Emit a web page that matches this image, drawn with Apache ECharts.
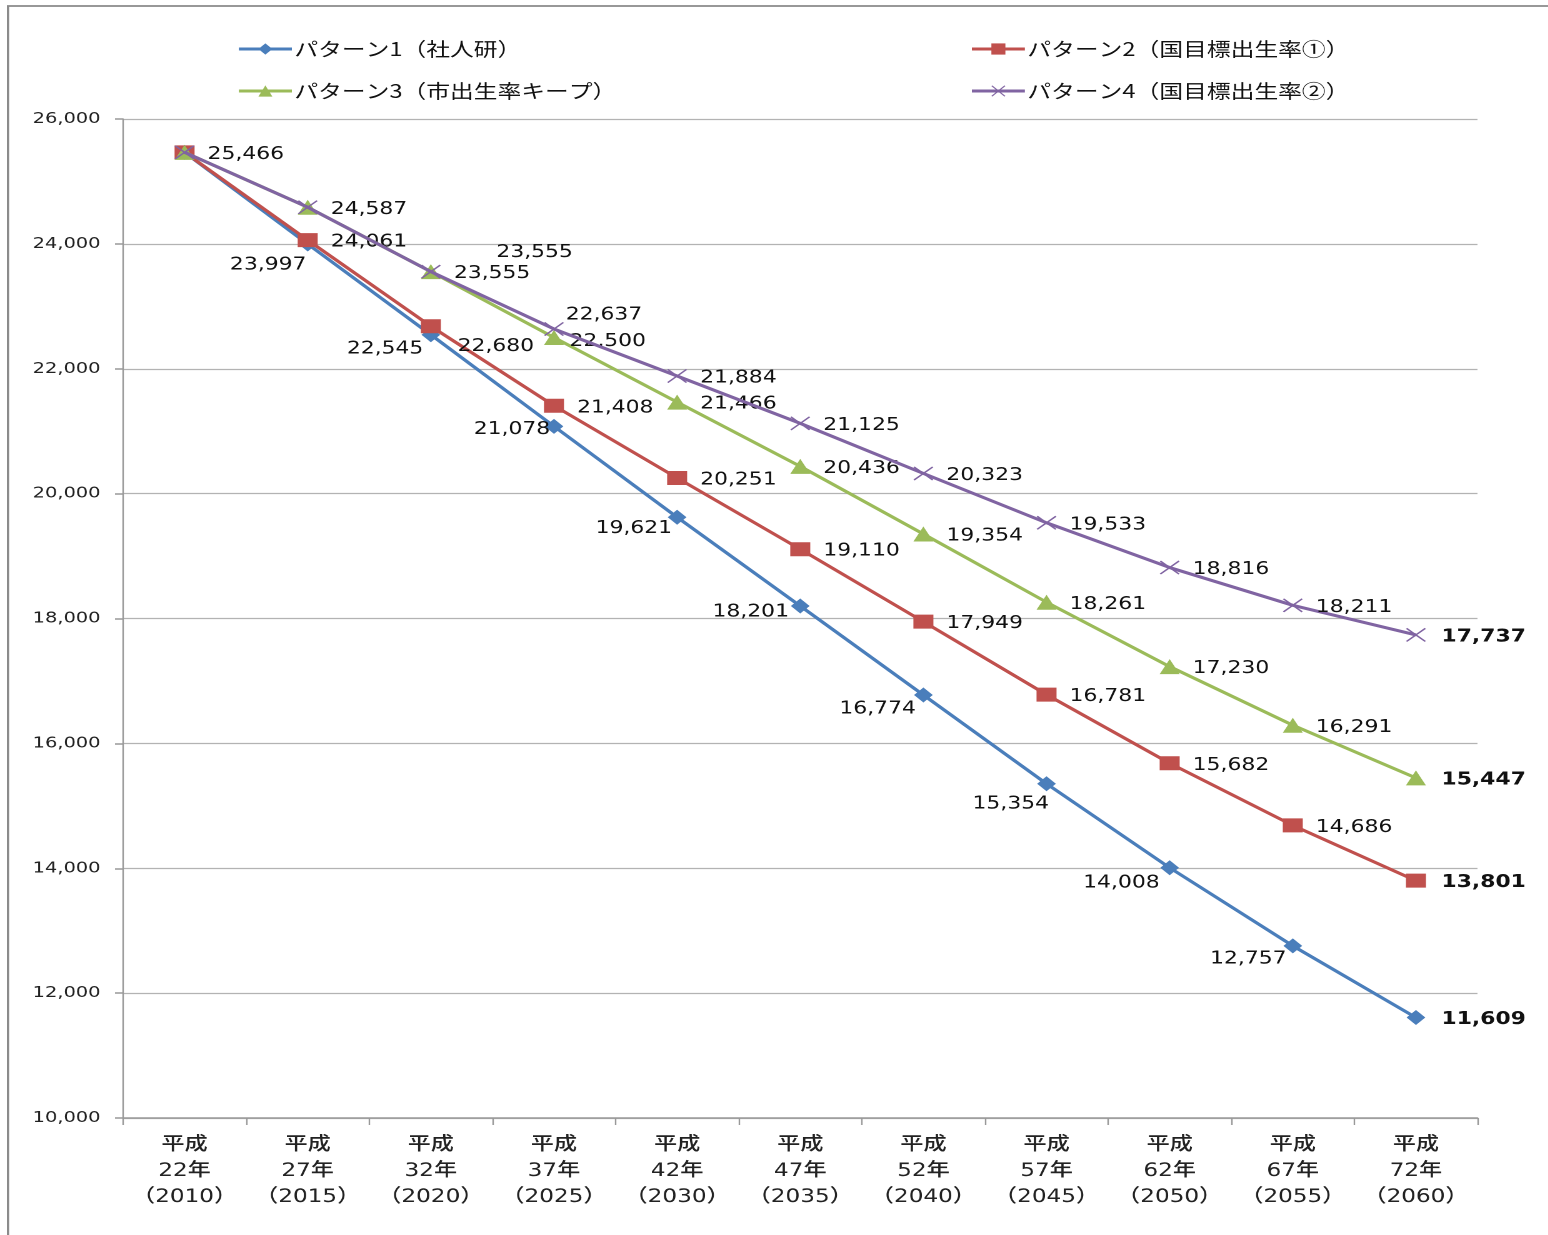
<!DOCTYPE html>
<html>
<head>
<meta charset="utf-8">
<script src="https://cdn.jsdelivr.net/npm/echarts@6/dist/echarts.min.js"></script>
<style>
  html, body { margin: 0; padding: 0; background: #fff; overflow: hidden; }
  #frame { width: 1548px; height: 1235px; overflow: hidden; }
  /* the chart is laid out narrow and widened horizontally, giving the wide type and marks */
  #chart { width: 1238.4px; height: 1235px; transform: scaleX(1.25); transform-origin: 0 0; }
</style>
</head>
<body>
<div id="frame"><div id="chart"></div></div>
<script>
// Categories: Heisei era year / Western year
const categories = [
  '平成\n22年\n（2010）', '平成\n27年\n（2015）', '平成\n32年\n（2020）', '平成\n37年\n（2025）',
  '平成\n42年\n（2030）', '平成\n47年\n（2035）', '平成\n52年\n（2040）', '平成\n57年\n（2045）',
  '平成\n62年\n（2050）', '平成\n67年\n（2055）', '平成\n72年\n（2060）'
];

const seriesNames = [
  'パターン1（社人研）',
  'パターン2（国目標出生率①）',
  'パターン3（市出生率キープ）',
  'パターン4（国目標出生率②）'
];

const pattern1 = [25466, 23997, 22545, 21078, 19621, 18201, 16774, 15354, 14008, 12757, 11609];
const pattern2 = [25466, 24061, 22680, 21408, 20251, 19110, 17949, 16781, 15682, 14686, 13801];
const pattern3 = [25466, 24587, 23555, 22500, 21466, 20436, 19354, 18261, 17230, 16291, 15447];
const pattern4 = [25466, 24587, 23555, 22637, 21884, 21125, 20323, 19533, 18816, 18211, 17737];

const yMin = 10000, yMax = 26000, yStep = 2000;

const colors = ['#4A7EBB', '#C0504D', '#9BBB59', '#8064A2'];

const LABEL_FONT = 'DejaVu Sans';
const fmt = v => Number(v).toLocaleString('en-US');

// Label placement per point: [side, dx, dy] or null to hide
const placeP1 = [['right', 0, 0], ['left', 3, 19], ['left', -2, 12], ['left', 1, 1], ['left', 0, 9],
                 ['left', -5, 4], ['left', -2, 12], ['left', 6, 18], ['left', -4, 13], ['left', -1, 11], ['end', 0, 0]];
const placeP2 = [null, ['right', 0, 0], ['right', 3, 18], ['right', 0, 0], ['right', 0, 0], ['right', 0, 0],
                 ['right', 0, 0], ['right', 0, 0], ['right', 0, 0], ['right', 0, 0], ['end', 0, 0]];
const placeP3 = [null, ['right', 0, 0], ['right', 0, 0], ['right', -6, 2], ['right', 0, 0], ['right', 0, 0],
                 ['right', 0, 0], ['right', 0, 0], ['right', 0, 0], ['right', 0, 0], ['end', 0, 0]];
const placeP4 = [null, null, ['right', 34, -21], ['right', -9, -16], ['right', 0, 0], ['right', 0, 0],
                 ['right', 0, 0], ['right', 0, 0], ['right', 0, 0], ['right', 0, 0], ['end', 0, 0]];

function labelFor(p, halfW) {
  if (!p) return { show: false };
  const [side, dx, dy] = p;
  const base = {
    show: true,
    fontFamily: LABEL_FONT,
    fontSize: 17.5,
    color: '#111',
    formatter: q => fmt(q.value)
  };
  if (side === 'left') {
    return Object.assign(base, { position: 'left', distance: 0, offset: [dx + halfW - 4, dy + 2] });
  }
  if (side === 'end') {
    return Object.assign(base, { position: 'right', distance: 18.4 - halfW, offset: [2, 2], fontWeight: 'bold' });
  }
  return Object.assign(base, { position: 'right', distance: 18.4 - halfW, offset: [dx, dy + 2] });
}

function buildData(values, placement, halfW) {
  return values.map((v, i) => ({ value: v, label: labelFor(placement[i], halfW) }));
}

// thin "x" mark
const crossPath = 'path://M0,1.3L1.3,0L10,8.7L18.7,0L20,1.3L11.3,10L20,18.7L18.7,20L10,11.3L1.3,20L0,18.7L8.7,10Z';

const seriesDefs = [
  { values: pattern1, place: placeP1, symbol: 'diamond', size: [15, 15] },
  { values: pattern2, place: placeP2, symbol: 'rect', size: [16, 14] },
  { values: pattern3, place: placeP3, symbol: 'triangle', size: [16, 15] },
  { values: pattern4, place: placeP4, symbol: crossPath, size: [16, 14] }
];

const series = seriesDefs.map((d, i) => ({
  name: seriesNames[i],
  type: 'line',
  data: buildData(d.values, d.place, d.size[0] / 2),
  symbol: d.symbol,
  symbolSize: d.size,
  showAllSymbol: true,
  lineStyle: { width: 3, color: colors[i] },
  itemStyle: { color: colors[i] },
  emphasis: { disabled: true },
  animation: false,
  z: 2 + i
}));

const legendPos = [[189.6, 34.5], [776, 34.5], [189.6, 76.5], [776, 76.5]];
const legends = seriesNames.map((n, i) => ({
  data: [n],
  left: legendPos[i][0],
  top: legendPos[i][1],
  padding: [5, 0, 5, 0],
  itemWidth: 42.4,
  itemHeight: 14,
  itemGap: 4,
  selectedMode: false,
  lineStyle: { width: 3 },
  textStyle: { fontFamily: 'Noto Sans CJK JP', fontSize: 19, color: '#111', padding: [0, 0, 0, -3] }
}));

const chart = echarts.init(document.getElementById('chart'), null, { renderer: 'canvas', devicePixelRatio: 2 });
chart.setOption({
  backgroundColor: '#fff',
  animation: false,
  color: colors,
  legend: legends,
  grid: { left: 98.4, top: 119, right: 56, bottom: 117, containLabel: false },
  xAxis: {
    type: 'category',
    data: categories,
    boundaryGap: true,
    axisLine: { lineStyle: { color: '#999', width: 1.5 } },
    axisTick: { show: true, length: 7, lineStyle: { color: '#999', width: 1.2 } },
    axisLabel: {
      interval: 0,
      margin: 14,
      fontFamily: 'DejaVu Sans, Noto Sans CJK JP',
      fontSize: 18.5,
      fontWeight: 500,
      lineHeight: 26,
      color: '#222'
    },
    splitLine: { show: false }
  },
  yAxis: {
    type: 'value',
    min: yMin,
    max: yMax,
    interval: yStep,
    axisLine: { show: true, lineStyle: { color: '#999', width: 1.2 } },
    axisTick: { show: true, length: 6.4, lineStyle: { color: '#999', width: 1.5 } },
    axisLabel: {
      margin: 18,
      fontFamily: 'DejaVu Sans',
      fontSize: 15.5,
      color: '#222',
      padding: [3, 0, 0, 0],
      formatter: v => fmt(v)
    },
    splitLine: { show: true, lineStyle: { color: '#b3b3b3', width: 1.2 } }
  },
  graphic: [{
    type: 'rect',
    shape: { x: 6.4, y: 6, width: 1400, height: 1400 },
    style: { fill: 'none', stroke: '#8a8a8a', lineWidth: 1.8 },
    silent: true,
    z: 100
  }],
  series: series
});
</script>
</body>
</html>
